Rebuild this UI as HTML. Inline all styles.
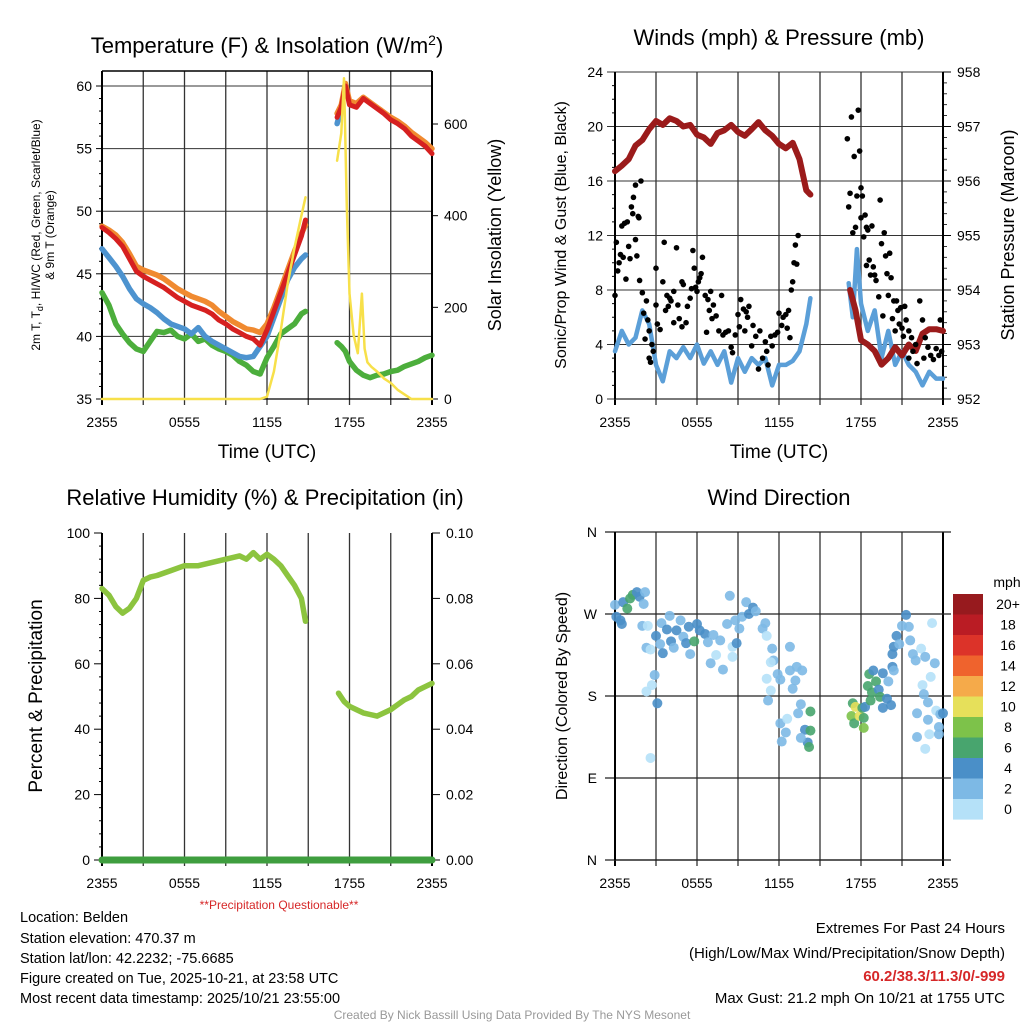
<!DOCTYPE html>
<html><head><meta charset="utf-8"><style>
html,body{margin:0;padding:0;background:#fff;}
svg{display:block;font-family:"Liberation Sans",Arial,sans-serif;}
</style></head><body>
<svg id="fig" width="1024" height="1024" viewBox="0 0 1024 1024" xmlns="http://www.w3.org/2000/svg">
<rect width="1024" height="1024" fill="#fff"/>
<g id="g"></g>
<text x="267" y="53" font-size="22" text-anchor="middle">Temperature (F) &amp; Insolation (W/m<tspan dy="-8" font-size="14">2</tspan><tspan dy="8">)</tspan></text>
<text x="779" y="45" font-size="22" text-anchor="middle">Winds (mph) &amp; Pressure (mb)</text>
<text x="265" y="505" font-size="22" text-anchor="middle">Relative Humidity (%) &amp; Precipitation (in)</text>
<text x="779" y="505" font-size="22" text-anchor="middle">Wind Direction</text>
<text transform="translate(40,235) rotate(-90)" font-size="12" text-anchor="middle">2m T, T<tspan dy="3" font-size="9">d</tspan><tspan dy="-3">, HI/WC (Red, Green, Scarlet/Blue)</tspan></text>
<text transform="translate(54,235) rotate(-90)" font-size="12" text-anchor="middle">&amp; 9m T (Orange)</text>
<text transform="translate(501,235) rotate(-90)" font-size="18" text-anchor="middle">Solar Insolation (Yellow)</text>
<text transform="translate(566,235) rotate(-90)" font-size="16" text-anchor="middle">Sonic/Prop Wind &amp; Gust (Blue, Black)</text>
<text transform="translate(1014,235) rotate(-90)" font-size="18" text-anchor="middle">Station Pressure (Maroon)</text>
<text transform="translate(42,696) rotate(-90)" font-size="19" text-anchor="middle">Percent &amp; Precipitation</text>
<text transform="translate(567,696) rotate(-90)" font-size="16" text-anchor="middle">Direction (Colored By Speed)</text>
<text x="267" y="458" font-size="19" text-anchor="middle">Time (UTC)</text>
<text x="779" y="458" font-size="19" text-anchor="middle">Time (UTC)</text>
<text x="279" y="909" font-size="12" fill="#d62728" text-anchor="middle">**Precipitation Questionable**</text>
<g font-size="14.5">
<text x="20" y="922">Location: Belden</text>
<text x="20" y="943">Station elevation: 470.37 m</text>
<text x="20" y="963">Station lat/lon: 42.2232; -75.6685</text>
<text x="20" y="983">Figure created on Tue, 2025-10-21, at 23:58 UTC</text>
<text x="20" y="1003">Most recent data timestamp: 2025/10/21 23:55:00</text>
</g>
<g font-size="15" text-anchor="end">
<text x="1005" y="933">Extremes For Past 24 Hours</text>
<text x="1005" y="958">(High/Low/Max Wind/Precipitation/Snow Depth)</text>
<text x="1005" y="981" fill="#d62728" font-weight="bold">60.2/38.3/11.3/0/-999</text>
<text x="1005" y="1003">Max Gust: 21.2 mph On 10/21 at 1755 UTC</text>
</g>
<text x="512" y="1019" font-size="12" fill="#999" text-anchor="middle">Created By Nick Bassill Using Data Provided By The NYS Mesonet</text>
</svg>
<script>
// ---- Temperature panel data ----
const tHours1 = [0,0.5,1,1.5,2,2.5,3,3.5,4,4.5,5,5.5,6,6.5,7,7.5,8,8.5,9,9.5,10,10.5,11,11.5,12,12.5,13,13.5,14,14.5,14.8];
const red1 = [48.7,48.3,47.8,47.2,46.2,45.2,44.8,44.5,44.2,43.9,43.5,43.1,42.8,42.5,42.3,42.1,41.8,41.3,41.0,40.6,40.3,40.0,39.8,39.3,40.5,42.0,43.5,45.0,46.5,48.0,49.3];
const orange1 = [48.8,48.5,48.1,47.5,46.6,45.6,45.3,45.1,44.9,44.6,44.2,43.8,43.5,43.2,43.0,42.8,42.5,42.0,41.6,41.2,40.9,40.6,40.5,40.3,41.0,42.3,43.8,45.3,46.8,48.2,48.9];
const blue1 = [47.0,46.3,45.6,44.8,43.8,43.0,42.6,42.3,41.9,41.4,41.0,40.8,40.6,40.2,40.7,40.0,39.6,39.3,39.0,38.7,38.4,38.3,38.4,39.2,40.0,41.5,43.0,44.5,45.5,46.2,46.5];
const green1 = [43.5,42.5,41.0,40.2,39.5,39.0,38.8,39.6,40.4,40.3,40.5,40.0,39.8,40.2,39.6,39.8,39.3,39.0,38.8,38.5,38.0,37.7,37.2,37.0,38.3,39.2,40.2,40.6,41.0,41.8,42.0];
const tHours2 = [17.1,17.4,17.7,18.0,18.5,19,19.5,20,20.5,21,21.5,22,22.5,23,23.5,24];
const red2 = [57.5,58.3,60.0,58.5,58.3,59.0,58.6,58.2,57.8,57.3,57.0,56.6,56.0,55.6,55.2,54.6];
const orange2 = [57.8,58.5,60.2,58.8,58.6,59.1,58.7,58.3,57.9,57.5,57.2,56.8,56.3,55.9,55.5,55.0];
const green2 = [39.5,39.2,38.8,38.0,37.3,36.9,36.7,36.9,37.0,37.2,37.3,37.6,37.8,38.0,38.3,38.5];
const blueHours2 = [17.1,17.3,17.5];
const blue2 = [57.0,57.8,58.5];
const solarHours1 = [0,11.5,12,12.5,13,13.5,14,14.5,14.8];
const solar1 = [0,0,5,60,150,250,330,400,440];
const solarHours2 = [17.1,17.4,17.6,17.8,18.0,18.3,18.6,18.9,19.1,19.3,19.6,20,20.5,21,21.5,22,22.5,23,24];
const solar2 = [520,580,700,420,230,140,100,230,110,80,70,60,45,35,20,10,0,0,0];
const tempTicks = [35,40,45,50,55,60];
const solarTicks = [0,200,400,600];
const timeLabels = ["2355","0555","1155","1755","2355"];
// ---- Wind panel data ----
const wHours1 = [0,0.5,1,1.5,2,2.5,3,3.5,4,4.5,5,5.5,6,6.5,7,7.5,8,8.5,9,9.5,10,10.5,11,11.5,12,12.5,13,13.5,14,14.3];
const wind1 = [3.5,5,4,4.5,6.5,5.5,2.5,1.3,3.5,3,3.8,3,4,2.6,3.5,2.5,3.5,1.2,3,2,3,2.5,3,1,2.5,2.5,2.8,3.5,5.5,7.4];
const press1 = [956.18,956.28,956.4,956.65,956.75,956.95,957.1,957.03,957.15,957.1,957.0,957.03,956.85,956.8,956.68,956.88,956.93,957.03,956.9,956.83,956.95,957.08,956.93,956.83,956.68,956.6,956.7,956.4,955.83,955.75];
const wHours2 = [17.1,17.4,17.7,18.0,18.5,19,19.5,20,20.5,21,21.5,22,22.5,23,23.5,24];
const wind2 = [8.5,6,11,7,5,6.5,3,5,2.5,3.5,2.5,2,1,2,1.5,1.5];
const pHours2 = [17.2,17.6,18.0,18.5,19,19.5,20,20.5,21,21.5,22,22.5,23,23.5,24];
const press2 = [954.0,953.63,953.08,953.0,952.88,952.63,952.75,952.95,952.8,953.0,952.88,953.2,953.28,953.28,953.25];
const gustHours = [0,0.1,0.2,0.3,0.4,0.5,0.6,0.7,0.8,0.9,1.0,1.1,1.2,1.3,1.35,1.5,1.5,1.6,1.7,1.75,1.8,1.9,2.0,2.1,2.2,2.3,2.4,2.5,2.5,2.6,2.7,2.8,3.0,3.0,3.1,3.3,3.5,3.6,3.7,3.8,3.9,4.0,4.1,4.3,4.3,4.5,4.6,4.7,4.9,4.9,5.0,5.2,5.3,5.5,5.6,5.7,5.8,5.9,6.0,6.1,6.2,6.3,6.4,6.6,6.7,6.8,6.9,7.0,7.1,7.2,7.4,7.6,7.8,7.9,8.1,8.3,8.5,8.6,8.8,9.0,9.1,9.2,9.4,9.5,9.6,9.7,9.8,10.0,10.1,10.3,10.5,10.6,10.8,11.0,11.1,11.2,11.4,11.5,11.7,11.9,12.0,12.2,12.3,12.5,12.6,12.7,12.8,12.9,13.0,13.1,13.2,13.3,13.4,
17.0,17.1,17.2,17.3,17.4,17.5,17.6,17.7,17.8,17.9,18.0,18.0,18.1,18.2,18.3,18.4,18.4,18.5,18.6,18.7,18.8,18.9,19.0,19.1,19.3,19.4,19.5,19.6,19.7,19.8,19.9,20.0,20.1,20.2,20.3,20.4,20.5,20.6,20.7,20.8,20.9,21.0,21.1,21.2,21.3,21.5,21.5,21.7,21.8,22.0,22.1,22.3,22.5,22.6,22.7,22.9,23.1,23.3,23.5,23.7,23.8,23.9];
const gustValues = [7.6,11.5,9.4,10,10.6,12.7,10.4,12.9,8.8,13,11.2,10.3,14.1,13.6,14.8,11.7,15.7,10.5,13.4,13.3,8.7,16,7.8,6.3,4.4,7.2,5.8,3,5,2.7,4,3.5,6.9,9.6,5.5,5.1,8.6,11.5,6.5,7.6,6.8,7.4,7.2,5.6,7.9,11.1,6.9,5.9,5.3,8.6,8.4,5.6,6.8,7.4,8.1,10.9,9.6,8.2,7.9,8.6,8.9,9.2,10.4,7.6,4.9,7.3,6.5,7.9,5.9,6.9,6.1,5.0,7.6,4.7,4.9,5.0,3.8,3.4,4.7,6.2,5.3,7.3,6.6,5.0,6.4,6.0,6.8,3.9,5.4,4.6,2.2,5.0,3.0,4.2,3.5,2.5,4.6,3.9,4.7,4.9,6.3,5.4,6.0,6.2,5.2,6.5,4.5,8.0,8.6,10.0,11.3,9.9,12.0,
19.1,14.1,15.1,20.7,12.2,17.8,12.6,14.9,21.2,18.2,13.3,15.5,14.9,11.9,13.5,12.6,9.8,12.4,10.2,9.1,12.7,9.7,9.1,8.7,7.5,14.6,11.4,6.1,12.2,10.5,9.2,7.6,10.7,8.9,5.9,7.2,5.0,7.2,6.5,5.5,6.7,5.2,4.6,6.8,5.8,3.0,5.0,4.5,3.5,4.0,2.6,7.2,5.8,3.0,4.5,3.8,3.2,2.9,3.7,3.2,5.8,3.5];
const windTicks = [0,4,8,12,16,20,24];
const pressTicks = [952,953,954,955,956,957,958];
// ---- Humidity panel data ----
const rhHours1 = [0,0.5,1,1.5,2,2.5,3,3.5,4,5,6,7,8,9,10,10.5,11,11.5,12,12.5,13,13.5,14,14.5,14.8];
const rh1 = [83,81,77.5,75.5,77,80,85.5,86.5,87,88.5,90,90,91,92,93,92,94,92,93.5,92,90,87,84,80,73];
const rhHours2 = [17.2,17.6,18,18.5,19,19.5,20,20.5,21,21.5,22,22.5,23,23.5,24];
const rh2 = [51,48.5,47,46,45,44.5,44,45,46,47.5,49,50,52,53,54];
const precipHours = [0,24];
const precip = [0,0];
const rhTicks = [0,20,40,60,80,100];
const precipTicks = ["0.00","0.02","0.04","0.06","0.08","0.10"];
// ---- Wind direction panel data ----
const dirHours = [0,0.1,0.4,0.5,0.6,0.9,1.1,1.3,1.6,1.8,2.2,2.1,2.0,2.4,2.3,2.6,2.9,2.7,2.3,3.1,2.6,3.0,3.3,3.5,3.4,3.8,4.0,4.1,4.3,4.5,4.8,5.0,5.2,5.4,5.5,5.8,6.0,6.2,6.6,6.8,7.0,7.2,7.4,7.7,7.9,8.2,8.4,8.6,8.6,8.8,8.9,9.1,9.3,9.6,9.8,10.1,10.3,10.8,11.1,11.0,11.5,11.6,11.4,11.1,11.4,11.2,11.9,12.1,12.1,12.2,12.6,12.5,12.8,12.8,13.2,13.3,13.0,13.6,13.7,13.4,13.9,14.3,14.3,14.1,14.2,13.6,
17.4,17.6,17.3,17.5,17.9,18.1,18.2,18.2,18.3,18.5,18.6,18.7,18.8,18.9,19.1,19.3,19.4,19.6,19.6,19.9,20.0,20.2,20.3,20.4,20.3,20.4,20.6,20.8,21.0,21.3,21.5,21.6,21.8,22.0,22.4,22.7,22.5,22.6,22.9,22.9,22.1,22.1,22.7,23.0,23.1,23.2,23.4,23.5,23.7,23.8,24,23.7];
const dirDeg = [280,267,263,259,283,276,287,291,294,289,294,281,257,257,233,231,203,192,185,172,112,246,237,227,260,253,268,240,233,252,263,245,238,256,226,240,259,252,248,239,216,247,225,241,209,259,290,234,223,263,238,254,267,283,270,277,273,254,246,260,232,219,217,199,186,175,204,198,150,130,155,140,234,208,197,212,188,171,208,161,143,163,142,129,124,134,
172,168,158,150,158,167,156,145,168,191,204,175,184,208,196,187,179,167,205,177,196,170,212,208,226,234,246,237,257,269,256,241,226,219,232,223,192,182,173,154,161,135,122,138,201,260,216,164,146,160,161,138];
const dirSpeed = [3,5,5,5,5,7,7,7,5,5,3,3,3,1,3,1,3,1,1,5,1,5,3,5,3,5,3,5,3,5,3,3,5,5,3,7,5,5,5,3,3,3,1,3,3,3,3,1,1,3,5,3,3,3,5,5,3,3,1,3,3,3,1,1,1,3,3,3,3,3,1,3,3,3,3,3,3,3,3,3,5,7,7,5,7,3,
7,11,9,7,11,7,7,9,5,7,7,7,7,5,7,5,7,5,5,5,3,5,5,3,5,5,5,3,3,5,3,3,3,3,1,3,1,3,3,3,3,3,1,1,1,1,3,1,3,3,5,3];
const dirTicks = ["N","W","S","E","N"];
const speedLabels = ["20+","18","16","14","12","10","8","6","4","2","0"];
const speedColors = ["#971a1e","#ba1c24","#dc3329","#ef632d","#f5aa4a","#e6e05a","#7dc24a","#48a56e","#4a8fc8","#7db9e5","#b5e1f8"];

const NS="http://www.w3.org/2000/svg";
const G=document.getElementById('g');
function mk(tag,attrs,parent){const e=document.createElementNS(NS,tag);for(const k in attrs)e.setAttribute(k,attrs[k]);(parent||G).appendChild(e);return e;}
function txt(s,x,y,size,anchor,parent){const t=mk('text',{x:x,y:y,'font-size':size,'text-anchor':anchor||'middle'},parent);t.textContent=s;return t;}

const panels={
 temp:{x0:102,x1:432,y0:71,y1:399},
 wind:{x0:615,x1:943,y0:72,y1:399},
 rh:{x0:102,x1:432,y0:533,y1:860},
 dir:{x0:615,x1:943,y0:532,y1:860}
};
function xs(p,h){return p.x0+(p.x1-p.x0)*h/24;}
function lin(d0,d1,r0,r1){return v=>r0+(v-d0)*(r1-r0)/(d1-d0);}
const yT=lin(35,60,399,86), yS=lin(0,600,399,124);
const yW=lin(0,24,399,72), yP=lin(952,958,399,72);
const yR=lin(0,100,860,533), yPr=lin(0,0.1,860,533);
const yD=lin(360,0,532,860);

function frame(p,name){
 const g=mk('g',{});
 
 
 for(let i=0;i<=8;i++){const x=xs(p,i*3);mk('line',{x1:x,x2:x,y1:p.y0,y2:p.y1+6,stroke:i==0||i==8?'#000':'#333','stroke-width':i==0||i==8?2:1.3},g);}
 mk('line',{x1:p.x0,x2:p.x1,y1:p.y1,y2:p.y1,stroke:'#000','stroke-width':1.3},g);
 return g;
}
function xlabels(p,name){
 const g=mk('g',{'font-size':14});
 
 
 timeLabels.forEach((s,i)=>txt(s,xs(p,i*6),p.y1+28,14,'middle',g));
}
function path(hours,vals,p,yf,color,w,name){
 let d='';hours.forEach((h,i)=>{d+=(i?'L':'M')+xs(p,h).toFixed(1)+','+yf(vals[i]).toFixed(1);});
 const e=mk('path',{d:d,fill:'none',stroke:color,'stroke-width':w,'stroke-linejoin':'round','stroke-linecap':'round'});
 
 
 return e;
}

// Temperature panel
(function(){
 const p=panels.temp;frame(p,'temperature');
 const g=mk('g',{});
 
 
 tempTicks.forEach(v=>{const y=yT(v);if(v>35)mk('line',{x1:p.x0,x2:p.x1,y1:y,y2:y,stroke:'#333','stroke-width':1},g);mk('line',{x1:p.x0-6,x2:p.x0,y1:y,y2:y,stroke:'#000'},g);txt(String(v),p.x0-10,y+5,14,'end',g);});
 for(let v=36;v<61;v++){if(v%5)mk('line',{x1:p.x0-3,x2:p.x0,y1:yT(v),y2:yT(v),stroke:'#000'},g);}
 solarTicks.forEach(v=>{const y=yS(v);mk('line',{x1:p.x1,x2:p.x1+6,y1:y,y2:y,stroke:'#000'},g);txt(String(v),p.x1+12,y+5,14,'start',g);});
 mk('line',{x1:p.x0,x2:p.x0,y1:p.y0,y2:p.y1,stroke:'#000','stroke-width':2},g);
 mk('line',{x1:p.x1,x2:p.x1,y1:p.y0,y2:p.y1,stroke:'#000','stroke-width':2},g);
 mk('line',{x1:p.x0,x2:p.x1,y1:p.y0,y2:p.y0,stroke:'#000','stroke-width':1.5},g);
 xlabels(p,'temperature');
 path(tHours1,green1,p,yT,'#4cae3c',5.5,'dewpoint-line');
 path(tHours2,green2,p,yT,'#4cae3c',5.5,'dewpoint-line-2');
 path(tHours1,blue1,p,yT,'#4d93cf',5.5,'heat-index-line');
 path(blueHours2,blue2,p,yT,'#4d93cf',5.5,'heat-index-line-2');
 path(tHours1,orange1,p,yT,'#f08a30',5.5,'temp-9m-line');
 path(tHours2,orange2,p,yT,'#f08a30',5.5,'temp-9m-line-2');
 path(tHours1,red1,p,yT,'#d62020',5,'temp-2m-line');
 path(tHours2,red2,p,yT,'#d62020',5,'temp-2m-line-2');
 path(solarHours1,solar1,p,yS,'#f7e04a',2.5,'solar-line');
 path(solarHours2,solar2,p,yS,'#f7e04a',2.5,'solar-line-2');
})();

// Wind panel
(function(){
 const p=panels.wind;frame(p,'winds');
 const g=mk('g',{});
 
 
 windTicks.forEach(v=>{const y=yW(v);mk('line',{x1:p.x0-8,x2:p.x1+8,y1:y,y2:y,stroke:'#333','stroke-width':1},g);txt(String(v),p.x0-12,y+5,14,'end',g);});
 for(let v=1;v<24;v++){if(v%4)mk('line',{x1:p.x0-3,x2:p.x0,y1:yW(v),y2:yW(v),stroke:'#000'},g);}
 pressTicks.forEach(v=>{const y=yP(v);mk('line',{x1:p.x1,x2:p.x1+8,y1:y,y2:y,stroke:'#000'},g);txt(String(v),p.x1+14,y+5,14,'start',g);});
 for(let v=952.2;v<958;v+=0.2){mk('line',{x1:p.x1,x2:p.x1+4,y1:yP(v),y2:yP(v),stroke:'#000','stroke-width':0.8},g);}
 mk('line',{x1:p.x0,x2:p.x0,y1:p.y0,y2:p.y1,stroke:'#000','stroke-width':2},g);
 mk('line',{x1:p.x1,x2:p.x1,y1:p.y0,y2:p.y1,stroke:'#000','stroke-width':2},g);
 xlabels(p,'winds');
 path(wHours1,wind1,p,yW,'#5b9fd8',4.5,'wind-speed-line');
 path(wHours2,wind2,p,yW,'#5b9fd8',4.5,'wind-speed-line-2');
 path(wHours1,press1,p,yP,'#9b1b1b',6,'pressure-line');
 path(pHours2,press2,p,yP,'#9b1b1b',6,'pressure-line-2');
 const gg=mk('g',{fill:'#000'});
 
 
 gustHours.forEach((h,i)=>{const c=mk('circle',{cx:xs(p,h),cy:yW(gustValues[i]),r:2.8},gg);
  
  });
})();

// RH panel
(function(){
 const p=panels.rh;frame(p,'humidity');
 const g=mk('g',{});
 
 
 rhTicks.forEach((v,i)=>{const y=yR(v);mk('line',{x1:p.x0-8,x2:p.x0,y1:y,y2:y,stroke:'#000'},g);txt(String(v),p.x0-12,y+5,14,'end',g);
  mk('line',{x1:p.x1,x2:p.x1+8,y1:y,y2:y,stroke:'#000'},g);txt(precipTicks[i],p.x1+14,y+5,14,'start',g);});
 for(let v=4;v<100;v+=4){if(v%20)mk('line',{x1:p.x0-3,x2:p.x0,y1:yR(v),y2:yR(v),stroke:'#000'},g);}
 mk('line',{x1:p.x0,x2:p.x0,y1:p.y0,y2:p.y1,stroke:'#000','stroke-width':2},g);
 mk('line',{x1:p.x1,x2:p.x1,y1:p.y0,y2:p.y1,stroke:'#000','stroke-width':2},g);
 xlabels(p,'humidity');
 path(rhHours1,rh1,p,yR,'#8cc43f',5.5,'humidity-line');
 path(rhHours2,rh2,p,yR,'#8cc43f',5.5,'humidity-line-2');
 path(precipHours,precip,p,yPr,'#3f9e3f',7,'precipitation-line');
})();

// Direction panel
(function(){
 const p=panels.dir;frame(p,'direction');
 const g=mk('g',{});
 
 
 dirTicks.forEach((s,i)=>{const y=yD(360-i*90);mk('line',{x1:p.x0-10,x2:p.x1+8,y1:y,y2:y,stroke:'#222','stroke-width':1.2},g);txt(s,p.x0-18,y+5,14,'end',g);});
 mk('line',{x1:p.x0,x2:p.x0,y1:p.y0,y2:p.y1,stroke:'#000','stroke-width':2},g);
 xlabels(p,'direction');
 const dg=mk('g',{'fill-opacity':0.9});
 
 
 dirHours.forEach((h,i)=>{const s=dirSpeed[i];let k=10-Math.min(10,Math.floor(s/2));
  const c=mk('circle',{cx:xs(p,h),cy:yD(dirDeg[i]),r:5,fill:speedColors[k]},dg);
  
  });
 const lg=mk('g',{});
 
 
 txt('mph',1007,587,14,'middle',lg);
 speedColors.forEach((c,i)=>{mk('rect',{x:953,y:594+i*20.5,width:30,height:20.6,fill:c},lg);txt(speedLabels[i],1008,609+i*20.5,14,'middle',lg);});
})();
</script>
</body></html>
